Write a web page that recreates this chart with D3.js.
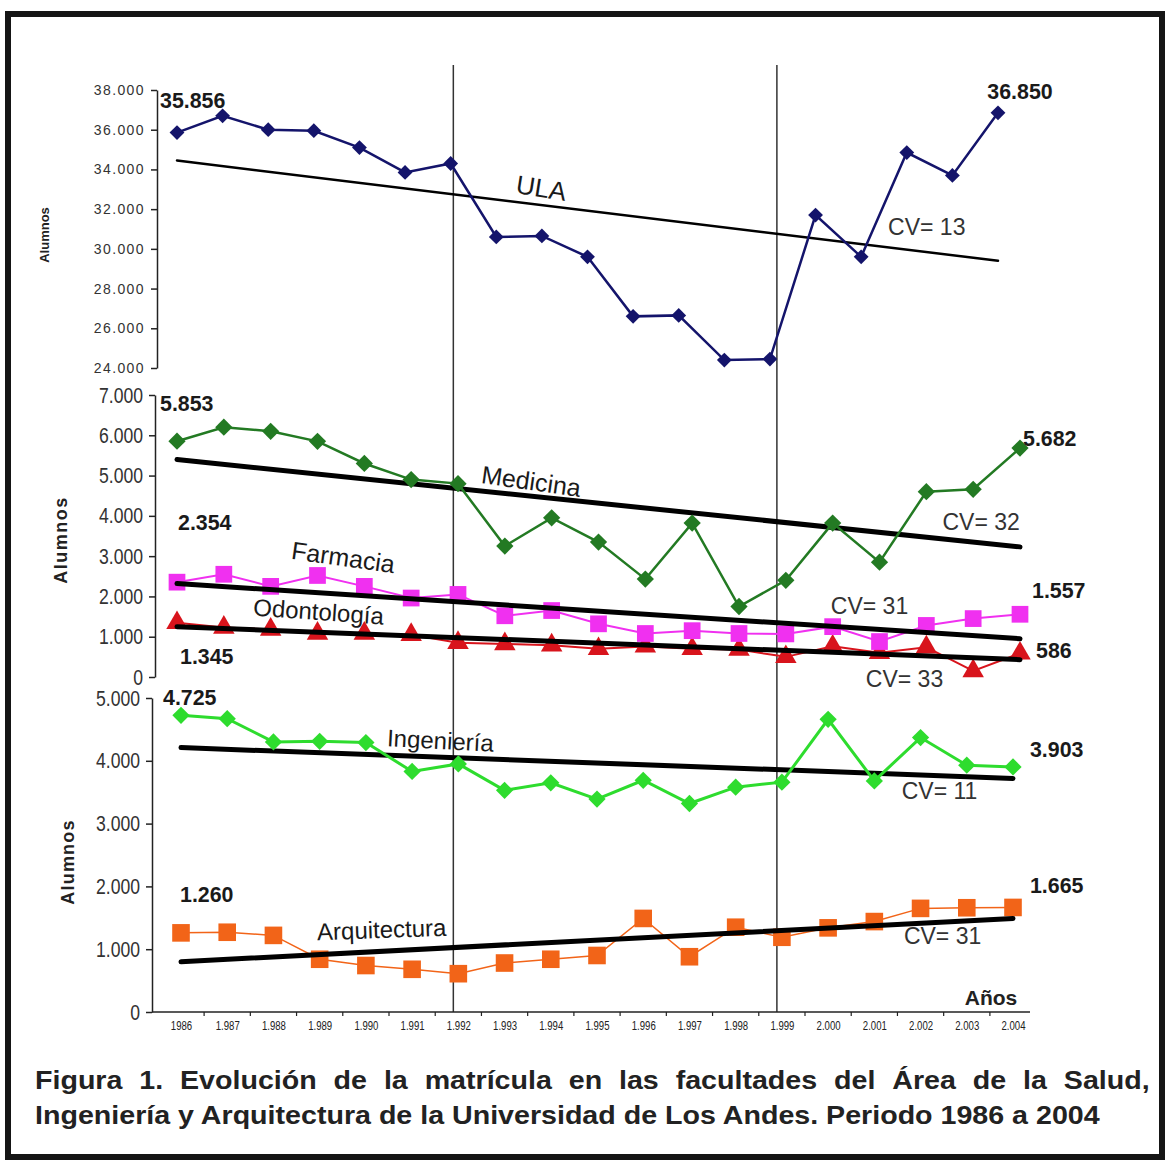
<!DOCTYPE html>
<html>
<head>
<meta charset="utf-8">
<script src="https://cdn.jsdelivr.net/npm/d3@7"></script>
<style>
  body { margin: 0; background: #fff; }
  svg { display: block; }
</style>
</head>
<body>
<div id="container"></div>
<script>
// --- data ---
const years = [1986, 1987, 1988, 1989, 1990, 1991, 1992, 1993, 1994, 1995, 1996, 1997, 1998, 1999, 2000, 2001, 2002, 2003, 2004];
const yearLabels = ["1986", "1.987", "1.988", "1.989", "1.990", "1.991", "1.992", "1.993", "1.994", "1.995", "1.996", "1.997", "1.998", "1.999", "2.000", "2.001", "2.002", "2.003", "2.004"];
const periodYears = [1992, 1999];

const ula = [35856, 36700, 36000, 35950, 35100, 33850, 34300, 30600, 30650, 29600, 26600, 26650, 24400, 24450, 31700, 29600, 34850, 33700, 36850];
const medicina = [5853, 6200, 6100, 5850, 5300, 4900, 4800, 3250, 3950, 3350, 2430, 3820, 1750, 2400, 3820, 2850, 4600, 4660, 5682];
const farmacia = [2354, 2550, 2250, 2520, 2250, 1960, 2050, 1520, 1650, 1320, 1080, 1150, 1080, 1070, 1250, 880, 1280, 1450, 1557];
const odontologia = [1345, 1230, 1180, 1080, 1080, 1050, 850, 820, 790, 700, 760, 700, 680, 500, 760, 600, 740, 150, 586];
const ingenieria = [4725, 4670, 4300, 4310, 4290, 3830, 3950, 3530, 3650, 3390, 3690, 3320, 3580, 3660, 4660, 3680, 4370, 3930, 3903];
const arquitectura = [1260, 1270, 1220, 840, 740, 680, 610, 780, 840, 900, 1490, 880, 1350, 1190, 1340, 1440, 1650, 1660, 1665];

// trend line values at 1986 and 2004
const trendULA = [34450, 29400];
const trendMedicina = [5400, 3230];
const trendFarmacia = [2320, 950];
const trendOdontologia = [1250, 430];
const trendIngenieria = [4210, 3720];
const trendArquitectura = [800, 1490];

const cvULA = "CV= 13", cvMedicina = "CV= 32", cvFarmacia = "CV= 31", cvOdontologia = "CV= 33", cvIngenieria = "CV= 11", cvArquitectura = "CV= 31";

const ticksTop = [24000, 26000, 28000, 30000, 32000, 34000, 36000, 38000];
const ticksMid = [0, 1000, 2000, 3000, 4000, 5000, 6000, 7000];
const ticksBot = [0, 1000, 2000, 3000, 4000, 5000];

const caption1 = "Figura 1. Evolución de la matrícula en las facultades del Área de la Salud,";
const caption2 = "Ingeniería y Arquitectura de la Universidad de Los Andes. Periodo 1986 a 2004";

// --- drawing ---
const W = 1167, H = 1162;
const FONT = "'Liberation Sans', Arial, sans-serif";
const loc = d3.formatLocale({decimal: ",", thousands: ".", grouping: [3], currency: ["", ""]});
const fmt = loc.format(",d");

const svg = d3.select("#container").append("svg")
  .attr("width", W).attr("height", H);

svg.append("rect").attr("width", W).attr("height", H).attr("fill", "#fff");
svg.append("rect")
  .attr("x", 8).attr("y", 14).attr("width", W - 13).attr("height", H - 19)
  .attr("fill", "#fff").attr("stroke", "#151515").attr("stroke-width", 6);

// squeeze text horizontally around its anchor point (no narrow font installed)
function condense(sel, sx) {
  sel.each(function() {
    const t = d3.select(this);
    const x = +t.attr("x") || 0, y = +t.attr("y") || 0;
    t.attr("transform", `translate(${x},${y}) scale(${sx},1) translate(${-x},${-y})`);
  });
}

const xTop = d3.scalePoint().domain(years).range([177, 998]);
const xMid = d3.scalePoint().domain(years).range([177, 1020]);
const xBot = d3.scalePoint().domain(years).range([181, 1013]);

const yTop = d3.scaleLinear().domain([24000, 38000]).range([368, 90]);
const yMid = d3.scaleLinear().domain([0, 7000]).range([677, 395]);
const yBot = d3.scaleLinear().domain([0, 5000]).range([1012, 698]);

// period separators
periodYears.forEach(yr => {
  svg.append("line")
    .attr("x1", xBot(yr) - 5).attr("x2", xBot(yr) - 5)
    .attr("y1", 65).attr("y2", 1012)
    .attr("stroke", "#333").attr("stroke-width", 1.5);
});

// y axes
function yAxis(scale, ticks, x, fontSize, spacing, sx) {
  const g = svg.append("g")
    .attr("transform", `translate(${x},0)`)
    .call(d3.axisLeft(scale).tickValues(ticks).tickFormat(fmt).tickSize(6).tickSizeOuter(0).tickPadding(6));
  g.select(".domain").attr("stroke", "#222").attr("stroke-width", 1.5);
  g.selectAll(".tick line").attr("stroke", "#222").attr("stroke-width", 1.5);
  const txt = g.selectAll("text")
    .attr("fill", "#333")
    .style("font-size", fontSize + "px")
    .style("font-family", FONT)
    .style("letter-spacing", spacing + "px");
  if (sx) condense(txt, sx);
  return g;
}
yAxis(yTop, ticksTop, 157, 14, 1.4);
yAxis(yMid, ticksMid, 155, 22, 0, 0.8);
yAxis(yBot, ticksBot, 152, 22, 0, 0.8);

// x axis (categories, ticks between points)
svg.append("line").attr("x1", 152).attr("x2", 1030).attr("y1", 1012).attr("y2", 1012)
  .attr("stroke", "#222").attr("stroke-width", 1.5);
years.slice(0, -1).forEach((yr, i) => {
  const mx = (xBot(yr) + xBot(years[i + 1])) / 2;
  svg.append("line").attr("x1", mx).attr("x2", mx).attr("y1", 1012).attr("y2", 1016)
    .attr("stroke", "#222").attr("stroke-width", 1.2);
});
const xg = svg.append("g")
  .attr("transform", "translate(0,1012)")
  .call(d3.axisBottom(xBot).tickSize(0).tickPadding(9).tickFormat((d, i) => yearLabels[i]));
xg.select(".domain").remove();
condense(xg.selectAll("text")
  .attr("fill", "#222")
  .style("font-size", "12px")
  .style("font-family", FONT), 0.8);

svg.append("text").attr("x", 991).attr("y", 1005).attr("text-anchor", "middle")
  .style("font", `bold 21px ${FONT}`).attr("fill", "#222").text("Años");

// axis titles
function axisTitle(x, y, size, spacing) {
  svg.append("text")
    .attr("transform", `translate(${x},${y}) rotate(-90)`)
    .attr("text-anchor", "middle")
    .style("font", `bold ${size}px ${FONT}`)
    .style("letter-spacing", spacing + "px")
    .attr("fill", "#222")
    .text("Alumnos");
}
axisTitle(49, 235, 13, 0);
axisTitle(67, 540, 18, 1.5);
axisTitle(74, 862, 18, 1.2);

// series
const markers = {
  diamond: d3.symbol().type(d3.symbolDiamond2),
  square: d3.symbol().type(d3.symbolSquare),
  triangle: d3.symbol().type(d3.symbolTriangle)
};

function series(values, x, y, color, width, shape, size) {
  const pts = values.map((v, i) => [x(years[i]), y(v)]);
  svg.append("path").attr("d", d3.line()(pts))
    .attr("fill", "none").attr("stroke", color).attr("stroke-width", width);
  svg.selectAll(null).data(pts).enter().append("path")
    .attr("transform", d => `translate(${d[0]},${d[1]})`)
    .attr("d", markers[shape].size(size))
    .attr("fill", color);
}
function trend(vals, x, y, width) {
  svg.append("line")
    .attr("x1", x(years[0])).attr("y1", y(vals[0]))
    .attr("x2", x(years[years.length - 1])).attr("y2", y(vals[1]))
    .attr("stroke", "#000").attr("stroke-width", width).attr("stroke-linecap", "round");
}

// top panel
trend(trendULA, xTop, yTop, 2.5);
series(ula, xTop, yTop, "#14146b", 2.5, "diamond", 140);

// middle panel
trend(trendMedicina, xMid, yMid, 5);
series(medicina, xMid, yMid, "#237a23", 2.5, "diamond", 190);
series(odontologia, xMid, yMid, "#d8141c", 2, "triangle", 200);
series(farmacia, xMid, yMid, "#f030f0", 2, "square", 280);
trend(trendFarmacia, xMid, yMid, 5);
trend(trendOdontologia, xMid, yMid, 5);

// bottom panel
trend(trendIngenieria, xBot, yBot, 5);
series(ingenieria, xBot, yBot, "#2edc2e", 3, "diamond", 190);
series(arquitectura, xBot, yBot, "#f26418", 1.5, "square", 310);
trend(trendArquitectura, xBot, yBot, 5);

// value labels (first and last year)
function valueLabel(text, x, y, anchor) {
  const t = svg.append("text").attr("x", x).attr("y", y).attr("text-anchor", anchor || "start")
    .style("font", `bold 23px ${FONT}`)
    .attr("fill", "#1a1a1a").text(text);
  condense(t, 0.93);
}
const last = years.length - 1;
valueLabel(fmt(ula[0]), xTop(years[0]) - 17, yTop(ula[0]) - 25);
valueLabel(fmt(ula[last]), xTop(years[last]) + 22, yTop(ula[last]) - 14, "middle");
valueLabel(fmt(medicina[0]), xMid(years[0]) - 17, yMid(medicina[0]) - 30);
valueLabel(fmt(medicina[last]), xMid(years[last]) + 3, yMid(medicina[last]) - 2);
valueLabel(fmt(farmacia[0]), xMid(years[0]) + 1, yMid(farmacia[0]) - 52);
valueLabel(fmt(farmacia[last]), xMid(years[last]) + 12, yMid(farmacia[last]) - 16);
valueLabel(fmt(odontologia[0]), xMid(years[0]) + 3, yMid(odontologia[0]) + 41);
valueLabel(fmt(odontologia[last]), xMid(years[last]) + 16, yMid(odontologia[last]) + 5);
valueLabel(fmt(ingenieria[0]), xBot(years[0]) - 18, yBot(ingenieria[0]) - 10);
valueLabel(fmt(ingenieria[last]), xBot(years[last]) + 17, yBot(ingenieria[last]) - 10);
valueLabel(fmt(arquitectura[0]), xBot(years[0]) - 1, yBot(arquitectura[0]) - 31);
valueLabel(fmt(arquitectura[last]), xBot(years[last]) + 17, yBot(arquitectura[last]) - 14);

// series names and CV notes
function seriesName(text, x, y, angle, size) {
  svg.append("text")
    .attr("transform", `translate(${x},${y}) rotate(${angle})`)
    .attr("text-anchor", "middle")
    .style("font", `${size}px ${FONT}`)
    .attr("fill", "#1a1a1a").text(text);
}
seriesName("ULA", 540, 197, 9, 26);
seriesName("Medicina", 530, 490, 8, 25);
seriesName("Farmacia", 342, 566, 8, 25);
seriesName("Odontología", 318, 620, 4, 24);
seriesName("Ingeniería", 440, 749, 3, 24);
seriesName("Arquitectura", 382, 938, -2, 24);

function cvNote(text, x, y) {
  svg.append("text").attr("x", x).attr("y", y).attr("text-anchor", "middle")
    .style("font", `23px ${FONT}`)
    .attr("fill", "#333").text(text);
}
cvNote(cvULA, xTop(2002) + 20, 235);
cvNote(cvMedicina, xMid(2003) + 8, 530);
cvNote(cvFarmacia, xMid(2001) - 10, 614);
cvNote(cvOdontologia, xMid(2001) + 25, 687);
cvNote(cvIngenieria, xBot(2002) + 19, 799);
cvNote(cvArquitectura, xBot(2002) + 22, 944);

// caption: condensed glyphs, first line justified by word spacing
const capStyle = `bold 25px ${FONT}`;
const c2 = svg.append("text").attr("x", 35).attr("y", 1124)
  .style("font", capStyle).attr("fill", "#222").text(caption2);
const sx = 1065 / c2.node().getComputedTextLength();
condense(c2, sx);
const c1 = svg.append("text").attr("x", 35).attr("y", 1089)
  .style("font", capStyle).attr("fill", "#222").text(caption1);
const w1 = c1.node().getComputedTextLength();
const spaces = caption1.split(" ").length - 1;
c1.style("word-spacing", ((1115 / sx - w1) / spaces) + "px");
condense(c1, sx);
</script>
</body>
</html>
